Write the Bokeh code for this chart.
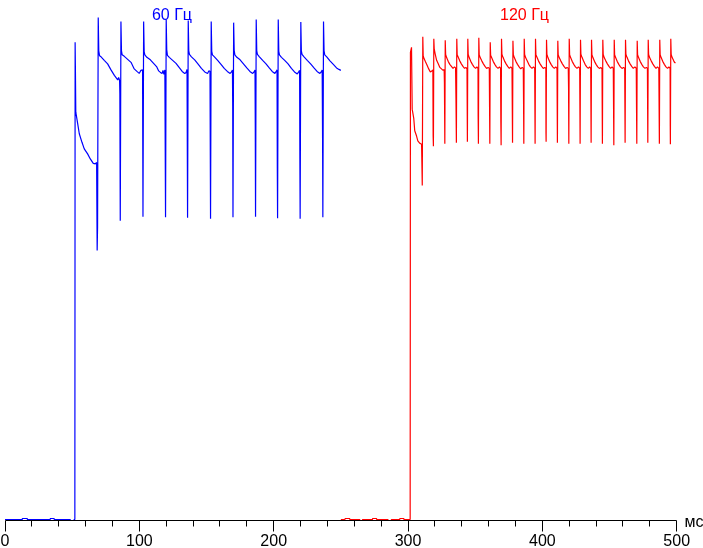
from bokeh.plotting import figure
from bokeh.models import Range1d, FixedTicker, Label
from bokeh.embed import file_html
from bokeh.resources import INLINE

# ---- axis ticks (ms) ----
x_ticks = [0, 100, 200, 300, 400, 500]
x_minor = [20, 40, 60, 80, 120, 140, 160, 180, 220, 240, 260, 280,
           320, 340, 360, 380, 420, 440, 460, 480]
x_unit = "мс"

# ---- series titles ----
title_60 = "60 Гц"
title_120 = "120 Гц"

# ---- 60 Hz trace (time in ms, brightness in %) ----
blue_t = [
    0.0, 12.8, 13.0, 16.5, 16.7, 33.6, 33.8, 36.5, 36.7, 48.5, 48.7, 51.3, 51.5, 52.0,
    52.2, 52.4, 52.7, 54.1, 55.3, 57.3, 59.0, 61.5, 63.5, 65.7, 67.2, 68.2, 68.6, 68.9,
    69.4, 69.8, 70.4, 71.5, 73.9, 76.4, 78.9, 81.4, 83.9, 84.6, 85.3, 85.5, 85.8,
    86.3, 86.7, 87.2, 88.8, 91.3, 93.8, 96.2, 98.2, 99.9, 100.7, 101.2, 102.4, 102.7,
    103.2, 103.6, 104.1, 105.6, 108.2, 110.6, 113.0, 114.4, 116.1, 117.0, 117.6, 118.3, 119.0, 119.5,
    120.0, 120.4, 120.9, 122.3, 124.8, 127.3, 129.6, 131.9, 133.8, 134.8, 135.5, 135.9,
    136.4, 136.8, 137.3, 138.8, 141.2, 143.6, 146.2, 148.7, 150.8, 151.7, 152.6, 153.0,
    153.5, 153.9, 154.4, 155.9, 158.3, 160.8, 163.2, 165.5, 167.6, 168.6, 169.3, 169.5, 169.7,
    170.2, 170.6, 171.1, 172.6, 175.0, 177.5, 180.0, 182.3, 184.4, 185.4, 186.1, 186.3, 186.5,
    187.0, 187.4, 187.9, 189.4, 191.8, 194.3, 196.7, 198.9, 200.9, 201.9, 202.5, 202.7, 202.9,
    203.4, 203.8, 204.3, 205.8, 208.2, 210.7, 213.2, 215.5, 217.6, 218.6, 219.3, 219.5, 219.7,
    220.2, 220.6, 221.1, 222.6, 225.0, 227.5, 230.0, 232.3, 234.4, 235.4, 236.1, 236.4, 236.6,
    237.1, 237.5, 238.0, 239.5, 241.9, 244.4, 246.8, 248.6, 250.0,
]
blue_v = [
    0.2, 0.2, 0.4, 0.4, 0.2, 0.2, 0.4, 0.4, 0.2, 0.2, 0.0, 0.0, 0.2, 0.2,
    95.1, 90.1, 81.2, 78.9, 76.9, 75.2, 73.9, 72.9, 71.9, 71.0, 70.9, 71.2, 53.7, 58.3,
    100.0, 93.4, 92.4, 92.2, 91.5, 90.8, 89.6, 88.5, 87.6, 88.1, 87.5, 84.8, 59.6,
    99.2, 93.4, 92.6, 92.3, 91.7, 91.1, 89.8, 89.3, 88.9, 89.3, 89.5, 89.6, 60.4,
    99.2, 93.2, 92.6, 92.1, 91.6, 90.9, 90.2, 89.4, 89.0, 88.9, 89.5, 88.7, 89.6, 60.3,
    99.6, 93.6, 92.5, 92.1, 91.5, 90.9, 90.1, 89.3, 88.9, 89.1, 89.7, 60.2,
    99.4, 93.4, 92.7, 92.2, 91.6, 90.8, 89.9, 89.2, 88.9, 89.4, 89.3, 60.0,
    99.2, 93.3, 92.6, 92.2, 91.5, 90.7, 89.9, 89.3, 88.9, 89.2, 89.6, 82.4, 60.3,
    99.0, 93.5, 92.6, 92.1, 91.6, 90.8, 90.0, 89.3, 88.9, 89.2, 89.6, 78.5, 60.4,
    99.6, 93.4, 92.7, 92.2, 91.5, 90.8, 90.0, 89.3, 88.9, 89.3, 89.6, 70.2, 60.1,
    99.6, 93.3, 92.6, 92.1, 91.5, 90.8, 89.9, 89.2, 88.8, 89.2, 89.5, 72.0, 60.0,
    99.1, 93.4, 92.7, 92.2, 91.5, 90.8, 90.0, 89.3, 88.9, 89.2, 89.6, 76.0, 60.3,
    99.2, 93.4, 92.6, 92.2, 91.4, 90.7, 90.0, 89.7, 89.5,
]

# ---- 120 Hz trace (time in ms, brightness in %) ----
red_t = [
    250.0, 253.0, 253.3, 256.5, 256.7, 264.0, 264.2, 266.0, 266.2, 273.5, 273.7,
    276.5, 276.7, 285.0, 285.2, 287.5, 287.7, 293.8, 294.0, 296.8, 297.0, 301.6,
    301.8, 302.6, 303.1, 304.3, 305.0, 306.3, 307.3, 308.8, 310.1, 310.6, 310.8,
    311.0, 311.3, 312.0, 313.0, 314.2, 315.4, 316.6, 317.7, 318.5, 318.7, 318.9,
    319.2, 319.5, 320.2, 321.3, 322.5, 323.7, 324.9, 326.1, 326.9, 327.1, 327.4,
    327.7, 328.0, 328.8, 329.9, 331.1, 332.3, 333.5, 334.6, 335.4, 335.7, 336.0,
    336.3, 336.6, 337.4, 338.5, 339.7, 340.9, 342.1, 343.1, 343.9, 344.2,
    344.5, 344.8, 345.6, 346.7, 347.9, 349.1, 350.3, 351.3, 352.1, 352.2, 352.4,
    352.7, 353.0, 353.8, 354.9, 356.1, 357.3, 358.5, 359.6, 360.5, 360.9,
    361.2, 361.5, 362.3, 363.4, 364.6, 365.8, 367.0, 368.1, 368.9, 369.1, 369.3,
    369.6, 369.9, 370.7, 371.8, 373.0, 374.2, 375.4, 376.5, 377.4, 377.8,
    378.1, 378.4, 379.2, 380.3, 381.5, 382.7, 383.9, 385.0, 385.8, 386.0, 386.2,
    386.5, 386.8, 387.6, 388.7, 389.9, 391.1, 392.3, 393.4, 394.3, 394.6,
    394.9, 395.2, 396.0, 397.1, 398.3, 399.5, 400.7, 401.8, 402.6, 402.7, 402.8,
    403.1, 403.4, 404.2, 405.3, 406.5, 407.7, 408.9, 410.0, 410.9, 411.2,
    411.5, 411.8, 412.6, 413.7, 414.9, 416.1, 417.3, 418.4, 419.3, 419.5, 419.7,
    420.0, 420.3, 421.1, 422.2, 423.4, 424.6, 425.8, 426.9, 427.8, 427.9, 428.1,
    428.4, 428.7, 429.5, 430.6, 431.8, 433.0, 434.2, 435.2, 436.0, 436.3,
    436.6, 436.9, 437.7, 438.8, 440.0, 441.2, 442.4, 443.5, 444.4, 444.7,
    445.0, 445.3, 446.1, 447.2, 448.4, 449.6, 450.8, 451.9, 452.8, 453.2,
    453.5, 453.8, 454.6, 455.7, 456.9, 458.1, 459.3, 460.4, 461.3, 461.6,
    461.9, 462.2, 463.0, 464.1, 465.3, 466.5, 467.7, 468.9, 469.9, 470.1, 470.3,
    470.6, 470.9, 471.7, 472.8, 474.0, 475.2, 476.4, 477.4, 478.2, 478.5,
    478.8, 479.1, 479.9, 481.0, 482.2, 483.4, 484.6, 485.7, 486.7, 487.1,
    487.4, 487.7, 488.5, 489.6, 490.8, 492.0, 493.2, 494.2, 495.1, 495.2, 495.3,
    495.6, 495.9, 496.7, 497.8, 498.4, 499.1,
]
red_v = [
    0.2, 0.2, 0.4, 0.4, 0.2, 0.2, 0.0, 0.0, 0.2, 0.2, 0.4,
    0.4, 0.2, 0.2, 0.0, 0.0, 0.2, 0.2, 0.4, 0.4, 0.2, 0.2,
    93.1, 94.1, 81.8, 79.9, 77.5, 76.5, 75.5, 75.0, 74.8, 66.6, 79.9,
    96.2, 92.4, 91.8, 91.2, 90.5, 89.8, 89.2, 89.4, 89.6, 76.5, 74.4,
    95.8, 93.8, 92.8, 91.5, 90.8, 90.1, 89.8, 89.5, 89.7, 87.1, 74.9,
    95.5, 92.7, 92.0, 91.3, 90.7, 90.3, 89.9, 90.2, 90.0, 83.6, 75.1,
    95.8, 92.6, 92.1, 91.4, 90.8, 90.3, 89.9, 90.1, 89.8, 75.3,
    95.8, 92.7, 92.0, 91.3, 90.7, 90.2, 89.9, 90.2, 89.9, 80.4, 74.9,
    96.0, 92.6, 92.0, 91.4, 90.8, 90.3, 89.9, 90.1, 89.9, 74.9,
    95.1, 92.5, 92.0, 91.3, 90.7, 90.2, 89.9, 90.2, 89.9, 79.2, 74.6,
    95.8, 92.7, 92.1, 91.4, 90.8, 90.3, 89.9, 90.2, 89.9, 75.1,
    95.4, 92.6, 92.0, 91.3, 90.7, 90.2, 89.8, 90.1, 89.9, 83.4, 74.9,
    95.8, 92.7, 92.0, 91.4, 90.7, 90.2, 89.9, 90.2, 89.9, 74.9,
    95.8, 92.6, 92.1, 91.4, 90.8, 90.3, 89.9, 90.1, 89.9, 77.0, 75.3,
    95.6, 92.7, 92.0, 91.3, 90.7, 90.2, 89.9, 90.2, 89.9, 75.1,
    95.4, 92.6, 92.0, 91.4, 90.8, 90.3, 89.9, 90.1, 89.9, 86.1, 74.9,
    95.8, 92.6, 92.0, 91.3, 90.7, 90.2, 89.9, 90.2, 89.9, 84.8, 74.9,
    95.6, 92.7, 92.1, 91.4, 90.7, 90.2, 89.9, 90.2, 89.9, 75.1,
    95.6, 92.6, 92.0, 91.3, 90.7, 90.2, 89.9, 90.1, 89.8, 74.9,
    95.6, 92.7, 92.0, 91.4, 90.8, 90.3, 89.9, 90.2, 89.9, 74.6,
    95.6, 92.6, 92.0, 91.3, 90.7, 90.2, 89.9, 90.1, 89.9, 75.1,
    95.6, 92.7, 92.1, 91.4, 90.8, 90.3, 89.9, 90.2, 89.9, 82.0, 74.9,
    95.4, 92.6, 92.0, 91.3, 90.7, 90.2, 89.9, 90.1, 89.9, 75.1,
    95.6, 92.7, 92.0, 91.4, 90.8, 90.3, 89.9, 90.2, 89.9, 74.9,
    95.6, 92.6, 92.0, 91.3, 90.7, 90.2, 89.9, 90.2, 89.9, 78.5, 74.8,
    95.8, 92.7, 92.0, 91.4, 91.1, 91.0,
]

FONT = "Liberation Sans"
BLUE = "#0000FF"
RED = "#FF0000"

# frame covers the whole window; the axis is pinned at value 0
p = figure(
    frame_width=703, frame_height=548,
    x_range=Range1d(-3.35, 519.95), y_range=Range1d(-5.567, 103.4),
    output_backend="svg", toolbar_location=None,
    min_border_left=0, min_border_right=0, min_border_top=0, min_border_bottom=0,
    y_axis_location=None, outline_line_color=None,
    background_fill_color="white", border_fill_color="white",
)
p.styles = {"position": "fixed", "left": "0px", "top": "0px"}
p.xgrid.visible = False
p.ygrid.visible = False

ax = p.xaxis[0]
ax.fixed_location = 0
ax.ticker = FixedTicker(ticks=x_ticks, minor_ticks=x_minor)
ax.bounds = (0, 500)
ax.axis_line_color = "black"
ax.axis_line_width = 1
ax.major_tick_line_color = "black"
ax.minor_tick_line_color = "black"
ax.major_tick_in = 0
ax.major_tick_out = 11
ax.minor_tick_in = 0
ax.minor_tick_out = 6
ax.major_label_standoff = 2
ax.major_label_text_font = FONT
ax.major_label_text_font_size = "16px"
ax.major_label_text_color = "black"

p.line(blue_t, blue_v, line_color=BLUE, line_width=1.2)
p.line(red_t, red_v, line_color=RED, line_width=1.2)

p.add_layout(Label(x=124.3, y=100.6, text=title_60, text_font=FONT, text_font_size="16px",
                   text_color=BLUE, text_align="center", text_baseline="alphabetic"))
p.add_layout(Label(x=386.7, y=100.6, text=title_120, text_font=FONT, text_font_size="16px",
                   text_color=RED, text_align="center", text_baseline="alphabetic"))
p.add_layout(Label(x=505.8, y=-0.2, text=x_unit, text_font=FONT, text_font_size="16px",
                   text_color="black", text_align="left", text_baseline="alphabetic"))

open("out.html", "w").write(file_html(p, INLINE))
